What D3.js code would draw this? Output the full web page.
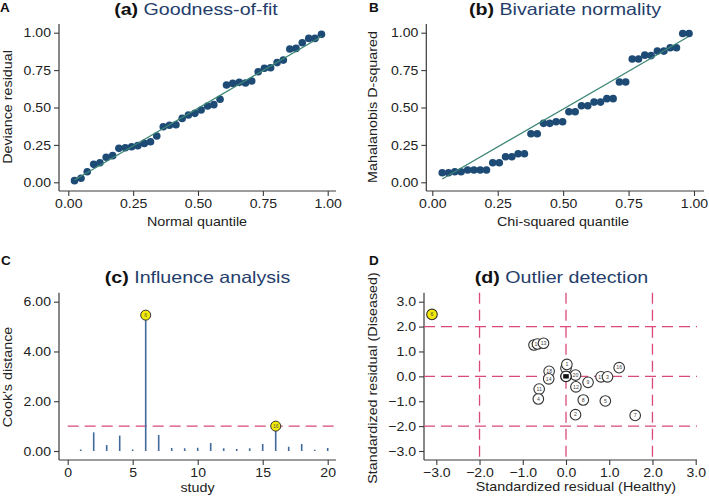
<!DOCTYPE html>
<html><head><meta charset="utf-8">
<script src="https://cdn.jsdelivr.net/npm/d3@7"></script>
<style>body{margin:0;background:#fff}svg{display:block}</style>
</head><body>
<script>
// ---------- DATA ----------
const quantA = [0.024,0.049,0.073,0.098,0.122,0.146,0.171,0.195,0.220,0.244,0.268,0.293,0.317,0.341,0.366,0.390,0.415,0.439,0.463,0.488,0.512,0.537,0.561,0.585,0.610,0.634,0.659,0.683,0.707,0.732,0.756,0.780,0.805,0.829,0.854,0.878,0.902,0.927,0.951,0.976];
const devianceA = [0.011,0.027,0.071,0.120,0.131,0.167,0.178,0.227,0.231,0.238,0.245,0.260,0.271,0.309,0.371,0.381,0.385,0.427,0.450,0.461,0.483,0.510,0.519,0.555,0.650,0.661,0.668,0.664,0.677,0.739,0.762,0.766,0.800,0.817,0.891,0.895,0.933,0.962,0.962,0.989];
const refLineA = [[0.024,0.015],[0.976,0.975]];

const quantB = [0.038,0.062,0.086,0.110,0.135,0.159,0.183,0.207,0.231,0.256,0.280,0.304,0.328,0.352,0.377,0.401,0.425,0.449,0.473,0.498,0.522,0.546,0.570,0.594,0.618,0.643,0.667,0.691,0.715,0.739,0.764,0.788,0.812,0.836,0.860,0.885,0.909,0.933,0.957,0.981];
const mahalB = [0.064,0.064,0.071,0.071,0.082,0.082,0.082,0.082,0.131,0.131,0.171,0.171,0.191,0.191,0.325,0.325,0.394,0.394,0.405,0.405,0.472,0.472,0.512,0.512,0.536,0.536,0.559,0.559,0.670,0.670,0.824,0.824,0.850,0.847,0.877,0.877,0.899,0.899,0.995,0.995];
const refLineB = [[0.038,0.022],[0.978,0.973]];

const studyC = [1,2,3,4,5,6,7,8,9,10,11,12,13,14,15,16,17,18,19,20];
const cooksC = [0.06,0.75,0.24,0.62,0.06,5.46,0.64,0.12,0.11,0.13,0.32,0.11,0.08,0.11,0.28,1.00,0.17,0.28,0.05,0.12];
const influentialC = [6,16];
const cooksCutoff = 1;

// drawn in this order (later ones on top)
const labelsD  = [19,10,13,15,1,18,14,11,4,20,12,9,8,2,17,3,5,7,16,6];
const healthyD = [-0.74,-0.66,-0.52,0.00,0.02,-0.39,-0.40,-0.62,-0.64,0.22,0.23,0.51,0.40,0.22,0.81,0.96,0.91,1.60,1.23,-3.10];
const diseasedD= [1.26,1.30,1.33,0.33,0.48,0.20,-0.10,-0.51,-0.91,0.05,-0.42,-0.24,-0.95,-1.54,-0.02,-0.02,-0.99,-1.57,0.35,2.49];
const outlierD = [6];
const centreD = [0,0];
const refD = [-2,0,2];

const ticks01 = [0,0.25,0.5,0.75,1];
const ticksCy = [0,2,4,6];
const ticksCx = [0,5,10,15,20];
const ticksD  = [-3,-2,-1,0,1,2,3];

// ---------- STYLE ----------
const FONT = "Liberation Sans, Arial, sans-serif";
const AXIS = "#3a3a3a";
const TXT = "#222";
const TITLE_BLUE = "#243d6b";
const DOT = "#1d4b76";
const LINE_GREEN = "#3d8575";
const STEM = "#41699a";
const PINK = "#d94a78";
const YELLOW = "#f2ea00";

const svg = d3.select("body").append("svg").attr("width",709).attr("height",498)
  .style("font-family",FONT);
svg.append("rect").attr("width",709).attr("height",498).attr("fill","#fff");

// horizontal widening of glyphs (reference text is wide)
function widen(sel,k){
  sel.each(function(){
    const w = this.getComputedTextLength();
    d3.select(this).attr("textLength",w*k).attr("lengthAdjust","spacingAndGlyphs");
  });
}

function frame(p){
  const g = svg.append("g");
  g.append("line").attr("x1",p.x0).attr("x2",p.x0).attr("y1",p.y0).attr("y2",p.y1)
    .attr("stroke",AXIS).attr("stroke-width",1.2);
  g.append("line").attr("x1",p.x0).attr("x2",p.x1).attr("y1",p.y1).attr("y2",p.y1)
    .attr("stroke",AXIS).attr("stroke-width",1.2);
  const ya = g.append("g").attr("transform",`translate(${p.x0},0)`)
    .call(d3.axisLeft(p.ys).tickValues(p.yt).tickFormat(p.fmtY).tickSize(5).tickPadding(3));
  const xa = g.append("g").attr("transform",`translate(0,${p.y1})`)
    .call(d3.axisBottom(p.xs).tickValues(p.xt).tickFormat(p.fmtX).tickSize(5).tickPadding(3));
  [ya,xa].forEach(a=>{
    a.select(".domain").remove();
    a.selectAll("line").attr("stroke",AXIS).attr("stroke-width",1.1);
    const t = a.selectAll("text").attr("font-family",FONT).attr("font-size",12.8).attr("fill",TXT);
    widen(t,1.1);
  });
  return g;
}
function title(x,y,bold,rest){
  const t = svg.append("text").attr("x",x).attr("y",y).attr("text-anchor","middle")
    .attr("font-size",16.5);
  t.append("tspan").attr("font-weight","bold").attr("fill","#111").text(bold);
  t.append("tspan").attr("fill",TITLE_BLUE).text(rest);
  widen(t,1.19);
}
function letter(x,y,s){
  svg.append("text").attr("x",x).attr("y",y).attr("font-size",13.5).attr("font-weight","bold")
    .attr("fill","#111").text(s);
}
function xTitle(x,y,s){
  const t = svg.append("text").attr("x",x).attr("y",y).attr("text-anchor","middle").attr("font-size",13)
    .attr("fill",TXT).text(s);
  widen(t,1.1);
}
function yTitle(x,y,s){
  const t = svg.append("text").attr("transform",`translate(${x},${y}) rotate(-90)`).attr("text-anchor","middle")
    .attr("font-size",13).attr("fill",TXT).text(s);
  widen(t,1.1);
}

// ---------- PANEL A ----------
const xA = d3.scaleLinear([0,1],[68.3,327.7]);
const yA = d3.scaleLinear([0,1],[182.3,32.7]);
frame({x0:59,x1:336,y0:24,y1:191,xs:xA,ys:yA,xt:ticks01,yt:ticks01,fmtX:d3.format(".2f"),fmtY:d3.format(".2f")});
svg.append("g").selectAll("circle").data(quantA).join("circle")
  .attr("cx",d=>xA(d)).attr("cy",(d,i)=>yA(devianceA[i])).attr("r",3.8).attr("fill",DOT);
svg.append("path").attr("d",d3.line().x(d=>xA(d[0])).y(d=>yA(d[1]))(refLineA))
  .attr("stroke",LINE_GREEN).attr("stroke-width",1.3).attr("fill","none");
title(196,15,"(a) ","Goodness-of-fit");
letter(0,12,"A");
xTitle(197,226,"Normal quantile");
yTitle(12,107,"Deviance residual");

// ---------- PANEL B ----------
const xB = d3.scaleLinear([0,1],[432.3,694]);
const yB = d3.scaleLinear([0,1],[182.3,32.7]);
frame({x0:426.3,x1:704,y0:24,y1:191,xs:xB,ys:yB,xt:ticks01,yt:ticks01,fmtX:d3.format(".2f"),fmtY:d3.format(".2f")});
svg.append("g").selectAll("circle").data(quantB).join("circle")
  .attr("cx",d=>xB(d)).attr("cy",(d,i)=>yB(mahalB[i])).attr("r",3.8).attr("fill",DOT);
svg.append("path").attr("d",d3.line().x(d=>xB(d[0])).y(d=>yB(d[1]))(refLineB))
  .attr("stroke",LINE_GREEN).attr("stroke-width",1.3).attr("fill","none");
title(565,15,"(b) ","Bivariate normality");
letter(369,12,"B");
xTitle(563,226,"Chi-squared quantile");
yTitle(377,107,"Mahalanobis D-squared");

// ---------- PANEL C ----------
const xC = d3.scaleLinear([0,20],[67.7,327.7]);
const yC = d3.scaleLinear([0,6],[451,301.7]);
frame({x0:59,x1:336,y0:292.7,y1:460,xs:xC,ys:yC,xt:ticksCx,yt:ticksCy,fmtX:d3.format("d"),fmtY:d3.format(".2f")});
svg.append("line").attr("x1",xC(0)).attr("x2",336).attr("y1",yC(cooksCutoff)).attr("y2",yC(cooksCutoff))
  .attr("stroke",PINK).attr("stroke-width",1.3).attr("stroke-dasharray","11,6");
svg.append("g").selectAll("line").data(studyC).join("line")
  .attr("x1",d=>xC(d)).attr("x2",d=>xC(d)).attr("y1",yC(0)).attr("y2",(d,i)=>yC(cooksC[i]))
  .attr("stroke",STEM).attr("stroke-width",1.6);
const infl = svg.append("g").selectAll("g").data(influentialC).join("g")
  .attr("transform",d=>`translate(${xC(d)},${yC(cooksC[studyC.indexOf(d)])})`);
infl.append("circle").attr("r",5).attr("fill",YELLOW).attr("stroke","#333").attr("stroke-width",1);
infl.append("text").attr("text-anchor","middle").attr("dy","0.35em").attr("font-size",5)
  .attr("fill","#555").text(d=>d);
title(197.5,283,"(c) ","Influence analysis");
letter(1,265,"C");
xTitle(197.5,492,"study");
yTitle(12,377,"Cook's distance");

// ---------- PANEL D ----------
const xD = d3.scaleLinear([-3,3],[436.3,695.7]);
const yD = d3.scaleLinear([-3,3],[451,301.7]);
frame({x0:424,x1:697,y0:292.7,y1:460,xs:xD,ys:yD,xt:ticksD,yt:ticksD,fmtX:d3.format(".1f"),fmtY:d3.format(".1f")});
svg.append("g").selectAll("line").data(refD).join("line")
  .attr("x1",424).attr("x2",697).attr("y1",d=>yD(d)).attr("y2",d=>yD(d))
  .attr("stroke",PINK).attr("stroke-width",1.3).attr("stroke-dasharray","11,6");
svg.append("g").selectAll("line").data(refD).join("line")
  .attr("x1",d=>xD(d)).attr("x2",d=>xD(d)).attr("y1",292.7).attr("y2",460)
  .attr("stroke",PINK).attr("stroke-width",1.3).attr("stroke-dasharray","11,6");
const pts = svg.append("g").selectAll("g").data(labelsD).join("g")
  .attr("transform",(d,i)=>`translate(${xD(healthyD[i])},${yD(diseasedD[i])})`);
pts.append("circle").attr("r",5.3).attr("fill",d=>outlierD.includes(d)?YELLOW:"#fff")
  .attr("stroke","#333").attr("stroke-width",1.1);
pts.append("text").attr("text-anchor","middle").attr("dy","0.35em").attr("font-size",5.2)
  .attr("fill","#444").text(d=>d);
const c = svg.append("g").attr("transform",`translate(${xD(centreD[0])},${yD(centreD[1])})`);
c.append("circle").attr("r",5.3).attr("fill","#fff").attr("stroke","#222").attr("stroke-width",1.3);
c.append("rect").attr("x",-2.8).attr("y",-2.2).attr("width",5.6).attr("height",4.4).attr("fill","#111");
title(561.5,283,"(d) ","Outlier detection");
letter(369,265,"D");
xTitle(576,491,"Standardized residual (Healthy)");
yTitle(377,378,"Standardized residual (Diseased)");
</script>
</body></html>
